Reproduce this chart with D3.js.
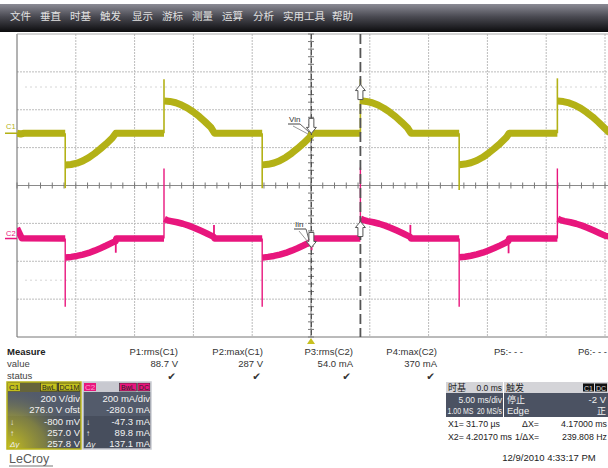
<!DOCTYPE html>
<html><head><meta charset="utf-8">
<script src="https://cdn.jsdelivr.net/npm/d3@7/dist/d3.min.js"></script>
<style>
html,body{margin:0;padding:0;background:#fff;overflow:hidden}
svg{display:block;font-family:"Liberation Sans",Arial,sans-serif}
</style></head><body>
<svg id="c" width="608" height="468"></svg>
<script>
// ---------------- data ----------------
const menuItems = ["文件","垂直","时基","触发","显示","游标","测量","运算","分析","实用工具","帮助"];
const menuX = [10,40,70,100,132,162,192,222,253,283,332];

// C1 (Vin, volts) band centre; null = break
const c1T = [-25,-24.7,-24.4,-20.9, null,
  -20.88,-20.4,-19.9,-19.4,-18.9,-18.4,-17.9,-17.4,-16.9,-16.6,-12.5, null,
  -12.48,-12.0,-11.5,-11.0,-10.5,-10.0,-9.5,-9.0,-8.5,-8.2,-4.15, null,
  -4.13,-3.65,-3.15,-2.65,-2.15,-1.65,-1.15,-0.65,-0.15,0.1,4.2, null,
  4.22,4.7,5.2,5.7,6.2,6.7,7.2,7.7,8.2,8.5,12.6, null,
  12.62,13.1,13.6,14.1,14.6,15.1,15.6,16.1,16.6,16.85,20.95, null,
  20.97,21.45,21.95,22.45,22.95,23.45,23.95,24.45,24.95,25.4];
const c1V = [0,-4,0,0, null,
  -168,-165,-158,-146,-129,-107,-82,-55,-25,0,0, null,
  170,168,161,149,133,112,88,60,30,0,0, null,
  -167,-164,-157,-145,-128,-106,-81,-54,-24,0,0, null,
  171,168,161,149,132,111,87,59,29,0,0, null,
  -166,-163,-156,-144,-127,-105,-80,-53,-23,0,0, null,
  170,167,160,148,131,110,86,58,28,2];
// C1 switching edges (thin) : time, from, to
const c1EdgeT    = [-20.9,-12.5,-4.15,4.2,12.6,20.95];
const c1EdgeFrom = [0,0,0,0,0,0];
const c1EdgeTo   = [-290,285,-290,286,-300,290];

// C2 (Iin, mA) band centre
const c2T = [-25,-24.8,-24.6,-20.9, null,
  -20.88,-20.4,-19.9,-19.4,-18.9,-18.4,-17.9,-17.4,-16.9,-16.62,-16.55,-12.5, null,
  -12.46,-12.2,-11.9,-11.4,-10.9,-10.4,-9.9,-9.4,-8.9,-8.4,-8.27,-8.2,-4.15, null,
  -4.13,-3.65,-3.15,-2.65,-2.15,-1.65,-1.15,-0.65,-0.15,0.03,0.1,4.2, null,
  4.24,4.5,4.8,5.3,5.8,6.3,6.8,7.3,7.8,8.3,8.43,8.5,12.6, null,
  12.62,13.1,13.6,14.1,14.6,15.1,15.6,16.1,16.6,16.78,16.85,20.95, null,
  20.99,21.25,21.55,22.05,22.55,23.05,23.55,24.05,24.55,25.05,25.4];
const c2I = [55,28,2,0, null,
  -100,-97,-92,-85,-76,-64,-51,-37,-22,-14,0,0, null,
  104,96,92,86,78,68,56,42,28,13,8,0,0, null,
  -101,-97,-92,-85,-76,-64,-51,-37,-22,-14,0,0, null,
  104,97,92,86,78,68,56,42,28,13,8,0,0, null,
  -99,-96,-91,-84,-75,-63,-50,-36,-21,-13,0,0, null,
  104,97,92,86,78,68,56,42,28,14,10];
const c2EdgeT    = [-20.9,-12.5,-4.15,4.2,12.6,20.95];
const c2EdgeFrom = [0,0,0,0,0,0];
const c2EdgeTo   = [-360,370,-360,375,-360,370];
const c2GlitchT    = [-16.6,-8.25,0.05,8.45,16.8];
const c2GlitchFrom = [-14,8,-14,8,-13];
const c2GlitchTo   = [-75,72,-62,72,-78];

// cursors
const cursorX1 = 0.0317, cursorX2 = 4.2017;   // ms
const c1AtX1 = -0.8, c1AtX2 = 257.0;           // V
const c2AtX1 = -47.3, c2AtX2 = 89.8;           // mA

// measurement table
const measHeads  = ["P1:rms(C1)","P2:max(C1)","P3:rms(C2)","P4:max(C2)","P5:- - -","P6:- - -"];
const measValues = ["88.7 V","287 V","54.0 mA","370 mA","",""];
const measStatus = [true,true,true,true,false,false];
const measRight  = [178,263,353,437,523,607];

const c1Rows = ["200 V/div","276.0 V ofst","-800 mV","257.0 V","257.8 V"];
const c2Rows = ["200 mA/div","-280.0 mA","-47.3 mA","89.8 mA","137.1 mA"];
const rowSyms = ["","","↓","↑","Δy"];

// ---------------- drawing ----------------
const svg = d3.select("#c");
const defs = svg.append("defs");
const YEL = "#b3b116", PINK = "#e8167d";

// scales
const x  = d3.scaleLinear().domain([-25,25]).range([17,605]);
const yV = d3.scaleLinear().domain([-1076,524]).range([337,34]);   // 200 V/div, ofst 276 V
const yI = d3.scaleLinear().domain([-520,1080]).range([337,34]);   // 200 mA/div, ofst -280 mA
const xDiv = d3.scaleLinear().domain([-5,5]).range([17,605]);
const yDiv = d3.scaleLinear().domain([-4,4]).range([337,34]);

// menu bar
const mg = defs.append("linearGradient").attr("id","mg").attr("x1",0).attr("y1",0).attr("x2",0).attr("y2",1);
mg.append("stop").attr("offset","0%").attr("stop-color","#8b8b95");
mg.append("stop").attr("offset","45%").attr("stop-color","#4a4a52");
mg.append("stop").attr("offset","100%").attr("stop-color","#0c0c0e");
svg.append("rect").attr("x",0).attr("y",4).attr("width",608).attr("height",28).attr("fill","url(#mg)");
svg.append("g").selectAll("text").data(menuItems).join("text")
  .attr("x",(d,i)=>menuX[i]).attr("y",19.5)
  .attr("font-family","'Noto Sans CJK SC'").attr("font-size",10.5).attr("fill","#e0e0e0")
  .text(d=>d);

// grid
const grid = svg.append("g");
grid.selectAll(".gv").data(d3.range(-4,6)).join("line")
  .attr("x1",d=>xDiv(d)).attr("x2",d=>xDiv(d)).attr("y1",34).attr("y2",337)
  .attr("stroke","#bcbcbc").attr("stroke-width",1).attr("stroke-dasharray","2,1");
grid.selectAll(".gh").data(d3.range(-3,4)).join("line")
  .attr("x1",17).attr("x2",608).attr("y1",d=>yDiv(d)).attr("y2",d=>yDiv(d))
  .attr("stroke","#bcbcbc").attr("stroke-width",1).attr("stroke-dasharray","2,1");
grid.selectAll(".gf").data([2.6,-2.5]).join("line")
  .attr("x1",25).attr("x2",608).attr("y1",d=>yDiv(d)).attr("y2",d=>yDiv(d))
  .attr("stroke","#d6d6d6").attr("stroke-width",1).attr("stroke-dasharray","2,3");
// borders
grid.append("line").attr("x1",17).attr("x2",17).attr("y1",34).attr("y2",337).attr("stroke","#666");
grid.append("line").attr("x1",17).attr("x2",608).attr("y1",337).attr("y2",337).attr("stroke","#777");
grid.append("line").attr("x1",17).attr("x2",608).attr("y1",34).attr("y2",34).attr("stroke","#aaa");
// centre axes with ticks
grid.append("line").attr("x1",17).attr("x2",608).attr("y1",yDiv(0)).attr("y2",yDiv(0)).attr("stroke","#8a8a8a");
grid.append("line").attr("x1",xDiv(0)).attr("x2",xDiv(0)).attr("y1",34).attr("y2",337).attr("stroke","#8a8a8a");
grid.selectAll(".tx").data(d3.range(-25,26)).join("line")
  .attr("x1",d=>xDiv(d/5)).attr("x2",d=>xDiv(d/5)).attr("y1",yDiv(0)-3).attr("y2",yDiv(0)+3)
  .attr("stroke","#777");
grid.selectAll(".ty").data(d3.range(-20,21)).join("line")
  .attr("y1",d=>yDiv(d/5)).attr("y2",d=>yDiv(d/5)).attr("x1",xDiv(0)-3).attr("x2",xDiv(0)+3)
  .attr("stroke","#777");

// clip
defs.append("clipPath").attr("id","clip").append("rect").attr("x",17).attr("y",34).attr("width",591).attr("height",303);
const plot = svg.append("g").attr("clip-path","url(#clip)");

function pts(T,V){ return T.map((t,i)=>[t,V[i]]); }
const lineV = d3.line().defined(d=>d[0]!==null && d[1]!==null).x(d=>x(d[0])).y(d=>yV(d[1]));
const lineI = d3.line().defined(d=>d[0]!==null && d[1]!==null).x(d=>x(d[0])).y(d=>yI(d[1]));

// C1 trace
plot.append("path").attr("d",lineV(pts(c1T,c1V))).attr("fill","none")
  .attr("stroke",YEL).attr("stroke-width",7).attr("stroke-linejoin","round");
plot.selectAll(".e1").data(c1EdgeT).join("line")
  .attr("x1",d=>x(d)).attr("x2",d=>x(d))
  .attr("y1",(d,i)=>yV(c1EdgeFrom[i])).attr("y2",(d,i)=>yV(c1EdgeTo[i]))
  .attr("stroke",YEL).attr("stroke-width",1.6);

// C2 trace
plot.append("path").attr("d",lineI(pts(c2T,c2I))).attr("fill","none")
  .attr("stroke",PINK).attr("stroke-width",6.5).attr("stroke-linejoin","round");
plot.selectAll(".e2").data(c2EdgeT).join("line")
  .attr("x1",d=>x(d)).attr("x2",d=>x(d))
  .attr("y1",(d,i)=>yI(c2EdgeFrom[i])).attr("y2",(d,i)=>yI(c2EdgeTo[i]))
  .attr("stroke",PINK).attr("stroke-width",1.4);
plot.selectAll(".g2").data(c2GlitchT).join("line")
  .attr("x1",d=>x(d)).attr("x2",d=>x(d))
  .attr("y1",(d,i)=>yI(c2GlitchFrom[i])).attr("y2",(d,i)=>yI(c2GlitchTo[i]))
  .attr("stroke",PINK).attr("stroke-width",1.8);

// cursors
svg.append("line").attr("x1",x(cursorX1)).attr("x2",x(cursorX1)).attr("y1",34).attr("y2",337)
  .attr("stroke","#444").attr("stroke-width",1).attr("stroke-dasharray","5,3");
svg.append("line").attr("x1",x(cursorX2)).attr("x2",x(cursorX2)).attr("y1",34).attr("y2",337)
  .attr("stroke","#555").attr("stroke-width",1.8).attr("stroke-dasharray","10,4");

function arrow(cx, tip, dir){ // dir 1 = pointing down, -1 = up
  const h=6, hw=5, sw=2.5, sl=9;
  const p = [[cx,tip],[cx-hw,tip-dir*h],[cx-sw,tip-dir*h],[cx-sw,tip-dir*(h+sl)],
             [cx+sw,tip-dir*(h+sl)],[cx+sw,tip-dir*h],[cx+hw,tip-dir*h]];
  svg.append("path").attr("d","M"+p.map(q=>q.join(",")).join("L")+"Z")
    .attr("fill","#fff").attr("stroke","#555").attr("stroke-width",1);
}
arrow(x(cursorX1), yV(c1AtX1), 1);
arrow(x(cursorX2), yV(c1AtX2), -1);
arrow(x(cursorX1), yI(c2AtX1), 1);
arrow(x(cursorX2), yI(c2AtX2), -1);

// Vin / Iin labels
function tag(txt, tx, ty, ex, ey){
  const g = svg.append("g");
  g.append("text").attr("x",tx).attr("y",ty).attr("font-size",8).attr("fill","#333").text(txt);
  g.append("line").attr("x1",tx-1).attr("x2",tx+11).attr("y1",ty+2).attr("y2",ty+2).attr("stroke","#444");
  g.append("line").attr("x1",tx+11).attr("x2",ex).attr("y1",ty+2).attr("y2",ey).attr("stroke","#666");
  g.append("line").attr("x1",tx+4).attr("x2",ex-1).attr("y1",ty+4).attr("y2",ey+2).attr("stroke","#999");
}
tag("Vin", 289, 122, 309, 132);
tag("Iin", 295, 227, 309, 240);

// channel ground markers
svg.append("text").attr("x",6).attr("y",128.5).attr("font-size",7.5).attr("fill",YEL).text("C1");
svg.append("line").attr("x1",5).attr("x2",17).attr("y1",yV(0)).attr("y2",yV(0)).attr("stroke",YEL).attr("stroke-width",1.5);
svg.append("text").attr("x",6).attr("y",235.5).attr("font-size",7.5).attr("fill",PINK).text("C2");
svg.append("line").attr("x1",5).attr("x2",17).attr("y1",yI(0)).attr("y2",yI(0)).attr("stroke",PINK).attr("stroke-width",1.5);

// trigger position marker
svg.append("path").attr("d",`M${x(0)-4},344L${x(0)},338L${x(0)+4},344Z`).attr("fill","#c8c020");

// measure table
const mt = svg.append("g").attr("font-size",9.5).attr("fill","#333");
mt.append("text").attr("x",7).attr("y",355).attr("font-weight","bold").attr("fill","#222").text("Measure");
mt.append("text").attr("x",7).attr("y",367).attr("fill","#444").text("value");
mt.append("text").attr("x",7).attr("y",379).attr("fill","#444").text("status");
mt.selectAll(".mh").data(measHeads).join("text")
  .attr("x",(d,i)=>measRight[i]).attr("y",355).attr("text-anchor","end").text(d=>d);
mt.selectAll(".mv").data(measValues).join("text")
  .attr("x",(d,i)=>measRight[i]).attr("y",367).attr("text-anchor","end").text(d=>d);
mt.selectAll(".ms").data(measStatus).join("text")
  .attr("x",(d,i)=>measRight[i]-2).attr("y",380).attr("text-anchor","end")
  .attr("font-family","DejaVu Sans").attr("font-size",10.5).attr("fill","#333")
  .text(d=>d?"✔":"");

// channel boxes
const glow = defs.append("radialGradient").attr("id","glow").attr("cx","0%").attr("cy","100%").attr("r","95%");
glow.append("stop").attr("offset","0%").attr("stop-color","#c9c21c").attr("stop-opacity",1);
glow.append("stop").attr("offset","55%").attr("stop-color","#a8a430").attr("stop-opacity",0.55);
glow.append("stop").attr("offset","100%").attr("stop-color","#525a6a").attr("stop-opacity",0);

function chanBox(x0, w, col, label, badges, rows, border, headBg, glowOn){
  const g = svg.append("g");
  g.append("rect").attr("x",x0).attr("y",382).attr("width",w).attr("height",67).attr("fill","#535b6b");
  g.append("rect").attr("x",x0).attr("y",416).attr("width",w).attr("height",33).attr("fill","#474e5d");
  if(glowOn) g.append("rect").attr("x",x0).attr("y",382).attr("width",w).attr("height",67).attr("fill","url(#glow)");
  g.append("rect").attr("x",x0).attr("y",382).attr("width",w).attr("height",10).attr("fill",headBg);
  g.append("rect").attr("x",x0+1).attr("y",383).attr("width",12).attr("height",8).attr("fill",col);
  g.append("text").attr("x",x0+2).attr("y",390).attr("font-size",8).attr("fill",label.c).text(label.t);
  let bx = x0+w-1;
  badges.slice().reverse().forEach(b=>{
    const bw = b.length*4.6+3;
    bx -= bw;
    g.append("rect").attr("x",bx).attr("y",383).attr("width",bw).attr("height",8).attr("fill",col).attr("stroke","#222").attr("stroke-width",0.6);
    g.append("text").attr("x",bx+bw/2).attr("y",390).attr("text-anchor","middle").attr("font-size",7).attr("fill","#222").text(b);
    bx -= 1.5;
  });
  const ry = [402,413,424.5,436,446.5];
  g.selectAll(".r").data(rows).join("text").attr("x",x0+w-1).attr("y",(d,i)=>ry[i])
    .attr("text-anchor","end").attr("font-size",9.5).attr("fill","#f2f2f2").text(d=>d);
  g.selectAll(".s").data(rowSyms).join("text").attr("x",x0+3).attr("y",(d,i)=>ry[i])
    .attr("font-size",8).attr("font-style","italic").attr("fill","#eee").text(d=>d);
  g.append("rect").attr("x",x0).attr("y",382).attr("width",w).attr("height",67).attr("fill","none")
    .attr("stroke",border).attr("stroke-width",1.5);
}
chanBox(7, 74, "#c4c01c", {t:"C1",c:"#333"}, ["BwL","DC1M"], c1Rows, "#b8b41a", "#66643a", true);
chanBox(83, 68, PINK, {t:"C2",c:"#ff9dd0"}, ["BwL","DC"], c2Rows, "#c9cbd2", "#c8c9d0", false);

// LeCroy
svg.append("text").attr("x",9).attr("y",463).attr("font-size",12.5).attr("fill","#5a5a5a").text("LeCroy");
svg.append("line").attr("x1",9).attr("x2",53).attr("y1",466).attr("y2",466).attr("stroke","#777").attr("stroke-width",1);

// timebase & trigger boxes
const tb = svg.append("g").attr("font-size",8.5);
tb.append("rect").attr("x",446).attr("y",382).attr("width",57).attr("height",35).attr("fill","#4b5262");
tb.append("rect").attr("x",446).attr("y",382).attr("width",57).attr("height",11).attr("fill","#d4d4d8");
tb.append("text").attr("x",448).attr("y",391).attr("font-family","'Noto Sans CJK SC'").attr("font-size",9).attr("fill","#222").text("时基");
tb.append("text").attr("x",502).attr("y",391).attr("text-anchor","end").attr("fill","#222").text("0.0 ms");
tb.append("text").attr("x",502).attr("y",403).attr("text-anchor","end").attr("fill","#f0f0f0").text("5.00 ms/div");
tb.append("text").attr("x",447.5).attr("y",414).attr("fill","#f0f0f0")
  .attr("textLength",26).attr("lengthAdjust","spacingAndGlyphs").text("1.00 MS");
tb.append("text").attr("x",502).attr("y",414).attr("text-anchor","end").attr("fill","#f0f0f0")
  .attr("textLength",25).attr("lengthAdjust","spacingAndGlyphs").text("20 MS/s");

tb.append("rect").attr("x",504).attr("y",382).attr("width",104).attr("height",35).attr("fill","#4b5262");
tb.append("rect").attr("x",504).attr("y",382).attr("width",104).attr("height",11).attr("fill","#d4d4d8");
tb.append("text").attr("x",506).attr("y",391).attr("font-family","'Noto Sans CJK SC'").attr("font-size",9).attr("fill","#222").text("触发");
tb.append("rect").attr("x",583).attr("y",383.5).attr("width",11).attr("height",8).attr("fill","#111");
tb.append("text").attr("x",588.5).attr("y",390.5).attr("text-anchor","middle").attr("font-size",7).attr("fill","#ddd").text("C1");
tb.append("rect").attr("x",595).attr("y",383.5).attr("width",12).attr("height",8).attr("fill","#111");
tb.append("text").attr("x",601).attr("y",390.5).attr("text-anchor","middle").attr("font-size",7).attr("fill","#ddd").text("DC");
tb.append("text").attr("x",507).attr("y",403).attr("font-family","'Noto Sans CJK SC'").attr("font-size",9).attr("fill","#f0f0f0").text("停止");
tb.append("text").attr("x",606).attr("y",403).attr("text-anchor","end").attr("font-size",9.5).attr("fill","#f0f0f0").text("-2 V");
tb.append("text").attr("x",507).attr("y",414).attr("font-size",9.5).attr("fill","#f0f0f0").text("Edge");
tb.append("text").attr("x",606).attr("y",414).attr("text-anchor","end").attr("font-family","'Noto Sans CJK SC'").attr("font-size",9).attr("fill","#f0f0f0").text("正");

// cursor readouts
const cr = svg.append("g").attr("font-size",8.8).attr("fill","#222");
cr.append("text").attr("x",448).attr("y",427).text("X1=");
cr.append("text").attr("x",500).attr("y",427).attr("text-anchor","end").text("31.70 µs");
cr.append("text").attr("x",522).attr("y",427).text("ΔX=");
cr.append("text").attr("x",607).attr("y",427).attr("text-anchor","end").text("4.17000 ms");
cr.append("text").attr("x",448).attr("y",440).text("X2=");
cr.append("text").attr("x",512).attr("y",440).attr("text-anchor","end")
  .attr("textLength",46).attr("lengthAdjust","spacingAndGlyphs").text("4.20170 ms");
cr.append("text").attr("x",515).attr("y",440).text("1/ΔX=");
cr.append("text").attr("x",607).attr("y",440).attr("text-anchor","end").text("239.808 Hz");
cr.append("text").attr("x",549).attr("y",461).attr("text-anchor","middle").attr("font-size",9.5).text("12/9/2010 4:33:17 PM");
</script>
</body></html>
